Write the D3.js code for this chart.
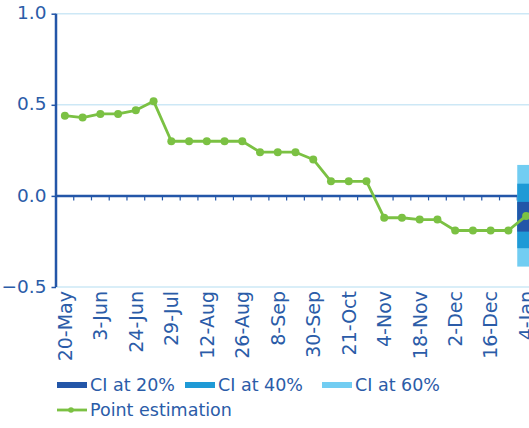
<!DOCTYPE html>
<html>
<head>
<meta charset="utf-8">
<script src="https://cdn.jsdelivr.net/npm/d3@7"></script>
<style>
  body { margin: 0; background: #fff; }
  svg { display: block; font-family: "DejaVu Sans", sans-serif; }
</style>
</head>
<body>
<div id="chart"></div>
<script>
// tick labels (every other observation is labelled)
var tickLabels = ["20-May", "3-Jun", "24-Jun", "29-Jul", "12-Aug", "26-Aug", "8-Sep",
  "30-Sep", "21-Oct", "4-Nov", "18-Nov", "2-Dec", "16-Dec", "4-Jan"];

// point estimation, one value per observation
var pointValues = [0.44, 0.43, 0.45, 0.45, 0.47, 0.52, 0.30, 0.30, 0.30, 0.30, 0.30,
  0.24, 0.24, 0.24, 0.20, 0.08, 0.08, 0.08, -0.12, -0.12, -0.13, -0.13, -0.19, -0.19,
  -0.19, -0.19, -0.11];

// confidence intervals, only on the last observation
var ciNames = ["CI at 20%", "CI at 40%", "CI at 60%"];
var ciLow = [-0.196, -0.287, -0.388];
var ciHigh = [-0.033, 0.067, 0.170];

var yTicks = [-0.5, 0.0, 0.5, 1.0];

var width = 529, height = 428;
var axisColor = "#2356a8";
var textColor = "#2b5ca8";
var gridColor = "#cde8f6";
var green = "#7bc143";
var ciColors = ["#2356a8", "#1f9ad6", "#72cdf2"];

var svg = d3.select("#chart")
  .append("svg")
  .attr("width", width)
  .attr("height", height);

var x = d3.scaleBand()
  .domain(d3.range(pointValues.length))
  .range([56, 535]);

var y = d3.scaleLinear()
  .domain([-0.5, 1.0])
  .range([287, 13.7]);

// gridlines
svg.append("g")
  .selectAll("line")
  .data(yTicks.filter(function(d) { return d !== 0; }))
  .enter()
  .append("line")
  .attr("x1", 56)
  .attr("x2", width)
  .attr("y1", function(d) { return y(d); })
  .attr("y2", function(d) { return y(d); })
  .attr("stroke", gridColor)
  .attr("stroke-width", 1.5);

// x axis on zero line, tick marks at band boundaries
var zeroAxis = svg.append("g")
  .attr("transform", "translate(0," + y(0) + ")");
zeroAxis.append("line")
  .attr("x1", 56)
  .attr("x2", width)
  .attr("stroke", axisColor)
  .attr("stroke-width", 2.5);
zeroAxis.selectAll(".tk")
  .data(d3.range(1, pointValues.length))
  .enter()
  .append("line")
  .attr("class", "tk")
  .attr("x1", function(d) { return x(d); })
  .attr("x2", function(d) { return x(d); })
  .attr("y1", 0)
  .attr("y2", 4.5)
  .attr("stroke", axisColor)
  .attr("stroke-width", 1.2);

// bottom labels
var xAxis = d3.axisBottom(x)
  .tickValues(d3.range(0, pointValues.length, 2))
  .tickFormat(function(d) { return tickLabels[d / 2]; })
  .tickSize(0);

var gx = svg.append("g")
  .attr("transform", "translate(0," + y(-0.5) + ")")
  .call(xAxis);
gx.select(".domain").remove();
gx.selectAll("text")
  .attr("transform", "rotate(-90)")
  .attr("x", -4)
  .attr("y", 0)
  .attr("dy", "0.36em")
  .attr("text-anchor", "end")
  .style("font-size", "19px")
  .style("font-family", "DejaVu Sans")
  .attr("fill", textColor);

// y axis
var yAxis = d3.axisLeft(y)
  .tickValues(yTicks)
  .tickFormat(d3.format(".1f"))
  .tickSize(4.5)
  .tickPadding(5);

var gy = svg.append("g")
  .attr("transform", "translate(56,0)")
  .call(yAxis);
gy.select(".domain")
  .attr("stroke", axisColor)
  .attr("stroke-width", 2.5)
  .attr("d", "M0," + y(1.0) + "V" + y(-0.5));
gy.selectAll(".tick line")
  .attr("stroke", axisColor)
  .attr("stroke-width", 1.5);
gy.selectAll("text")
  .attr("dy", "0.28em")
  .style("font-size", "18.5px")
  .style("font-family", "DejaVu Sans")
  .attr("fill", textColor);

// confidence interval bars, widest first
var lastIdx = pointValues.length - 1;
svg.append("g")
  .selectAll("rect")
  .data(d3.range(ciNames.length).reverse())
  .enter()
  .append("rect")
  .attr("x", x(lastIdx))
  .attr("width", x.bandwidth())
  .attr("y", function(i) { return y(ciHigh[i]); })
  .attr("height", function(i) { return y(ciLow[i]) - y(ciHigh[i]); })
  .attr("fill", function(i) { return ciColors[i]; });

// point estimation line
var line = d3.line()
  .x(function(d, i) { return x(i) + x.bandwidth() / 2; })
  .y(function(d) { return y(d); });

svg.append("path")
  .datum(pointValues)
  .attr("d", line)
  .attr("fill", "none")
  .attr("stroke", green)
  .attr("stroke-width", 2.8)
  .attr("stroke-linejoin", "round");

svg.append("g")
  .selectAll("circle")
  .data(pointValues)
  .enter()
  .append("circle")
  .attr("cx", function(d, i) { return x(i) + x.bandwidth() / 2; })
  .attr("cy", function(d) { return y(d); })
  .attr("r", 4)
  .attr("fill", green);

// legend
var legendPos = [[57, 385], [185, 385], [322, 385]];
var legend = svg.append("g");
ciNames.forEach(function(name, i) {
  var g = legend.append("g")
    .attr("transform", "translate(" + legendPos[i][0] + "," + legendPos[i][1] + ")");
  g.append("rect")
    .attr("x", 0)
    .attr("y", -3)
    .attr("width", 30)
    .attr("height", 6)
    .attr("fill", ciColors[i]);
  g.append("text")
    .attr("x", 33)
    .attr("y", 0)
    .attr("dy", "0.36em")
    .style("font-size", "17.5px")
    .attr("fill", textColor)
    .text(name);
});

var lg = legend.append("g")
  .attr("transform", "translate(57,410)");
lg.append("line")
  .attr("x1", 0)
  .attr("x2", 30)
  .attr("stroke", green)
  .attr("stroke-width", 2.8);
lg.append("circle")
  .attr("cx", 14)
  .attr("r", 2.8)
  .attr("fill", green);
lg.append("text")
  .attr("x", 33)
  .attr("y", 0)
  .attr("dy", "0.36em")
  .style("font-size", "17.5px")
  .attr("fill", textColor)
  .text("Point estimation");
</script>
</body>
</html>
